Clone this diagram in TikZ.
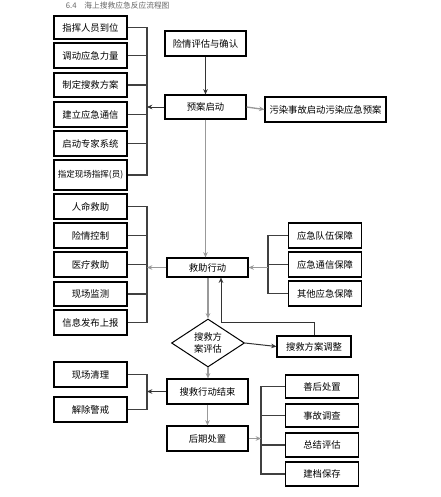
\documentclass[tikz,border=0pt]{standalone}
\usepackage{fontspec}
\newfontfamily\cjk{Noto Sans CJK SC}
\usetikzlibrary{arrows.meta,shapes.geometric}
\tikzset{every picture/.style={line width=0.75pt}}
\tikzset{
  box/.style={draw, line width=0.85pt, font=\cjk\fontsize{7}{8.5}\selectfont, inner sep=0pt, minimum height=18.75pt},
  sidebox/.style={box, minimum width=54.75pt},
  midbox/.style={box, minimum width=60.75pt},
  brk/.style={draw=black!75, line width=1pt},
  arr/.style={-{Stealth[length=4pt,width=3.5pt]}, draw=black!80},
  garr/.style={-{Stealth[length=4pt,width=3.5pt]}, draw=black!40, line width=1pt},
}

\begin{document}
\begin{tikzpicture}[x=0.75pt,y=0.75pt,yscale=-1,xscale=1]
	\useasboundingbox (0,0) rectangle (440,497);

	% Title
	\node[font=\cjk\fontsize{5.8}{7}\selectfont, text=black!60, anchor=west] (title) at (61,6) {6.4\quad 海上搜救应急反应流程图};

	% Left group: preparation
	\node[sidebox, minimum height=17.25pt] (zh) at (90.5,27.5) {指挥人员到位};
	\node[sidebox] (dd) at (90.5,55.5) {调动应急力量};
	\node[sidebox, minimum height=18pt] (zd) at (90.5,85) {制定搜救方案};
	\node[sidebox] (jl) at (90.5,114.5) {建立应急通信};
	\node[sidebox] (qz) at (90.5,143.5) {启动专家系统};
	\node[sidebox, minimum height=22.5pt, font=\cjk\fontsize{6.4}{8}\selectfont] (xc) at (90.5,175) {指定现场指挥(员)};

	% Left group: rescue
	\node[sidebox] (rm) at (90.5,206.5) {人命救助};
	\node[sidebox] (xq) at (90.5,235.5) {险情控制};
	\node[sidebox] (yl) at (90.5,264.5) {医疗救助};
	\node[sidebox, minimum height=18pt] (jc) at (90.5,294) {现场监测};
	\node[sidebox] (xx) at (90.5,322.5) {信息发布上报};

	% Left group: closing
	\node[sidebox] (ql) at (90.5,374.5) {现场清理};
	\node[sidebox] (jj) at (90.5,409.5) {解除警戒};

	% Main line
	\node[midbox] (pg) at (205.5,43.5) {险情评估与确认};
	\node[midbox, minimum height=18pt] (qd) at (205.5,107) {预案启动};
	\node[box, minimum width=90.75pt] (wr) at (325.5,109.5) {污染事故启动污染应急预案};
	\node[midbox, minimum height=14.25pt] (jz) at (207.5,267.5) {救助行动};
	\node[draw, diamond, line width=0.75pt, font=\cjk\fontsize{7}{8.5}\selectfont, align=center, inner sep=0pt, minimum width=54.75pt, minimum height=34.5pt] (pj) at (208,343) {搜救方\\案评估};
	\node[box, minimum width=55.5pt, minimum height=15.75pt] (tz) at (314,346.5) {搜救方案调整};
	\node[midbox] (js) at (207.5,391.5) {搜救行动结束};
	\node[midbox] (hq) at (207.5,438.5) {后期处置};

	% Right group: support
	\node[sidebox] (dw) at (325,235.5) {应急队伍保障};
	\node[sidebox] (tx) at (325,264.5) {应急通信保障};
	\node[sidebox] (qt) at (325,293.5) {其他应急保障};

	% Right group: aftermath
	\node[sidebox, minimum height=17.25pt] (sh) at (322,386.5) {善后处置};
	\node[sidebox, minimum height=17.25pt] (dc) at (322,415.5) {事故调查};
	\node[sidebox, minimum height=18pt] (zj) at (322,445) {总结评估};
	\node[sidebox, minimum height=18pt] (bc) at (322,474) {建档保存};

	% Bracket spines
	\coordinate (sa) at (147,0);
	\coordinate (sd) at (268,0);
	\coordinate (se) at (261,0);
	\coordinate (fb) at (221,322);

	% Brackets
	\draw[brk] (zh.east) -- (zh.east -| sa) -- (xc.east -| sa) -- (xc.east);
	\draw[brk] (dd.east) -- (dd.east -| sa);
	\draw[brk] (zd.east) -- (zd.east -| sa);
	\draw[brk] (jl.east) -- (jl.east -| sa);
	\draw[brk] (qz.east) -- (qz.east -| sa);

	\draw[brk] (rm.east) -- (rm.east -| sa) -- (xx.east -| sa) -- (xx.east);
	\draw[brk] (xq.east) -- (xq.east -| sa);
	\draw[brk] (yl.east) -- (yl.east -| sa);
	\draw[brk] (jc.east) -- (jc.east -| sa);

	\draw[brk] (ql.east) -- (ql.east -| sa) -- (jj.east -| sa) -- (jj.east);

	\draw[brk] (dw.west) -- (dw.west -| sd) -- (qt.west -| sd) -- (qt.west);
	\draw[brk] (tx.west) -- (tx.west -| sd);

	\draw[brk] (sh.west) -- (sh.west -| se) -- (bc.west -| se) -- (bc.west);
	\draw[brk] (dc.west) -- (dc.west -| se);
	\draw[brk] (zj.west) -- (zj.west -| se);

	% Arrows
	\draw[arr] (pg) -- (qd);
	\draw[garr] (qd.east) -- (wr.west);
	\draw[arr] (qd.west) -- (qd.west -| sa);
	\draw[garr] (qd.south) -- (qd.south |- jz.north);
	\draw[garr] (jz.west) -- (jz.west -| sa);
	\draw[garr] (jz.east -| sd) -- (jz.east);
	\draw[garr] (pj.north |- jz.south) -- (pj.north);
	\draw[arr] (pj.east) -- (tz.west);
	\draw[arr] (tz.north) |- (fb) -- (fb |- jz.south);
	\draw[garr] (pj.south) -- (pj.south |- js.north);
	\draw[arr] (js.west) -- (js.west -| sa);
	\draw[garr] (js.south) -- (hq.north);
	\draw[garr] (hq.east) -- (hq.east -| se);

\end{tikzpicture}
\end{document}
